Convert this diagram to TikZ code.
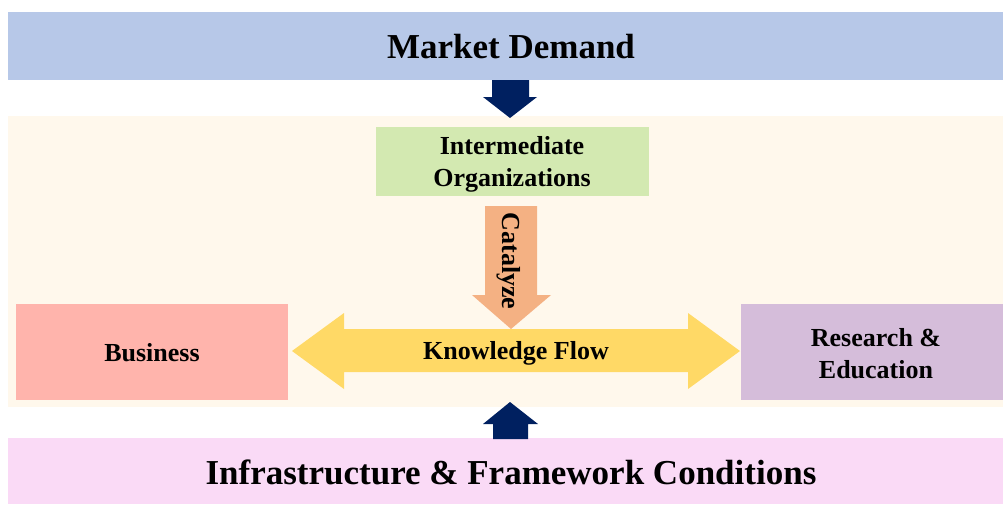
\documentclass[tikz,border=0pt]{standalone}
\usepackage{fontspec}
\setmainfont{Liberation Serif}
\definecolor{bandblue}{HTML}{B7C8E8}
\definecolor{cream}{HTML}{FFF8EC}
\definecolor{ioGreen}{HTML}{D3E9B1}
\definecolor{catOrange}{HTML}{F4B183}
\definecolor{flowYellow}{HTML}{FFD966}
\definecolor{bizSalmon}{HTML}{FFB4AC}
\definecolor{resLilac}{HTML}{D5BDDA}
\definecolor{bandPink}{HTML}{FADAF6}
\definecolor{navy}{HTML}{002060}
\tikzset{
  box/.style={rectangle, inner sep=0pt, outer sep=0pt, align=center,
    font=\bfseries\fontsize{26}{32}\selectfont},
  bigband/.style={box, font=\bfseries\fontsize{35}{42}\selectfont},
  label/.style={inner sep=0pt, align=center, font=\bfseries\fontsize{26}{32}\selectfont},
}
\begin{document}
\begin{tikzpicture}[x=1pt, y=-1pt]
  \useasboundingbox (0,0) rectangle (1003,504);

  % horizontal bands
  \node[bigband, fill=bandblue, minimum width=995pt, minimum height=68pt] (market) at (505.5,46) {};
  \node[label, font=\bfseries\fontsize{35}{42}\selectfont] (marketText) at (511,47) {Market Demand};
  \node[box, fill=cream, minimum width=995pt, minimum height=291pt] (cream) at (505.5,261.5) {};
  \node[bigband, fill=bandPink, minimum width=995pt, minimum height=66pt] (infra) at (505.5,471) {};
  \node[label, font=\bfseries\fontsize{35}{42}\selectfont] (infraText) at (511,472) {Infrastructure \& Framework Conditions};

  % actor boxes
  \node[box, fill=ioGreen, minimum width=273pt, minimum height=69pt] (inter) at (512.5,161.5) {};
  \node[label] (interText) at (512,164) {Intermediate\\Organizations};
  \node[box, fill=bizSalmon, minimum width=272pt, minimum height=96pt] (business) at (152,352) {};
  \node[label] (businessText) at (152,353) {Business};
  \node[box, fill=resLilac, minimum width=262pt, minimum height=96pt] (research) at (872,352) {};
  \node[label] (researchText) at (876,354) {Research \&\\Education};

  % market demand pushes down
  \fill[navy] (492,80) -- (529,80) -- (529,97) -- (537,97) -- (510,118)
    -- (483,97) -- (492,97) -- cycle;
  % framework conditions push up
  \fill[navy] (510,402) -- (538,424) -- (528,424) -- (528,439) -- (493,439)
    -- (493,424) -- (483,424) -- cycle;

  % catalyze arrow
  \fill[catOrange] (485,206) -- (537,206) -- (537,295) -- (551,295) -- (511,329)
    -- (472,295) -- (485,295) -- cycle;
  \node[label, rotate=-90] (catalyze) at (509,261) {Catalyze};

  % knowledge flow double arrow
  \fill[flowYellow] (292,351) -- (344,313) -- (344,329) -- (688,329) -- (688,313)
    -- (740,351) -- (688,389) -- (688,372) -- (344,372) -- (344,389) -- cycle;
  \node[label] (flow) at (516,353) {Knowledge Flow};
\end{tikzpicture}
\end{document}
